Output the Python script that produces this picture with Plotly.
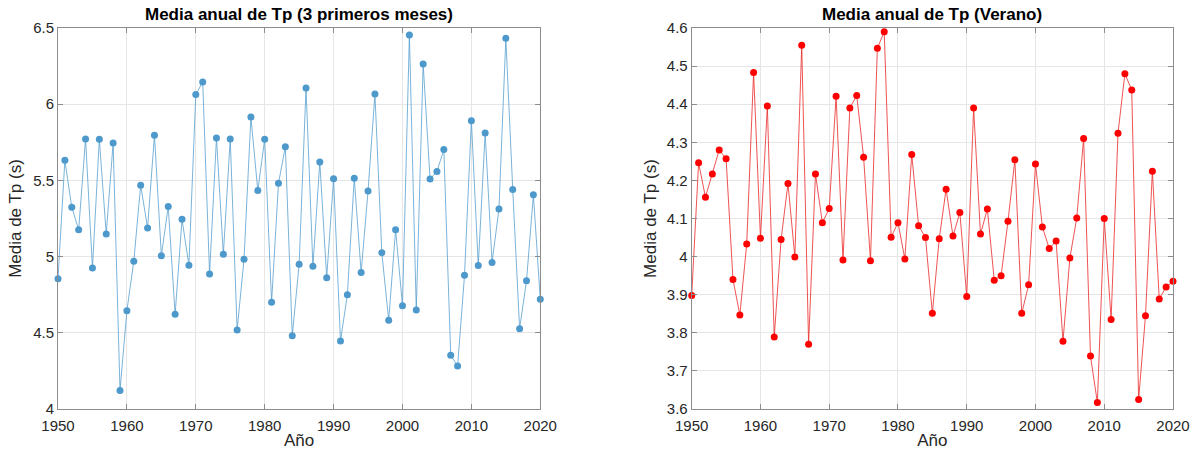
import plotly.graph_objects as go

years = list(range(1950, 2021))

tp_3meses = [4.855, 5.632, 5.323, 5.177, 5.772, 4.925, 5.770, 5.148, 5.745, 4.122,
             4.645, 4.969, 5.468, 5.188, 5.796, 5.006, 5.328, 4.621, 5.245, 4.943,
             6.063, 6.146, 4.886, 5.778, 5.015, 5.772, 4.518, 4.982, 5.916, 5.433,
             5.770, 4.700, 5.481, 5.721, 4.481, 4.949, 6.106, 4.936, 5.621, 4.862,
             5.511, 4.446, 4.750, 5.514, 4.895, 5.430, 6.067, 5.026, 4.582, 5.177,
             4.678, 6.454, 4.650, 6.264, 5.509, 5.559, 5.702, 4.352, 4.282, 4.877,
             5.892, 4.941, 5.811, 4.962, 5.312, 6.432, 5.441, 4.527, 4.842, 5.406,
             4.720]

tp_verano = [3.898, 4.246, 4.156, 4.217, 4.280, 4.257, 3.940, 3.847, 4.033, 4.483,
             4.048, 4.395, 3.789, 4.045, 4.192, 3.999, 4.555, 3.770, 4.217, 4.089,
             4.126, 4.421, 3.991, 4.390, 4.423, 4.261, 3.989, 4.547, 4.590, 4.051,
             4.089, 3.994, 4.268, 4.081, 4.050, 3.851, 4.047, 4.177, 4.054, 4.116,
             3.895, 4.390, 4.059, 4.125, 3.938, 3.950, 4.093, 4.254, 3.851, 3.926,
             4.243, 4.078, 4.021, 4.041, 3.778, 3.996, 4.101, 4.310, 3.739, 3.617,
             4.100, 3.835, 4.324, 4.480, 4.437, 3.625, 3.845, 4.224, 3.889, 3.920,
             3.935]

left_ticks = [4, 4.5, 5, 5.5, 6, 6.5]
left_ticktext = ["4", "4.5", "5", "5.5", "6", "6.5"]
right_ticks = [3.6, 3.7, 3.8, 3.9, 4.0, 4.1, 4.2, 4.3, 4.4, 4.5, 4.6]
right_ticktext = ["3.6", "3.7", "3.8", "3.9", "4", "4.1", "4.2", "4.3", "4.4", "4.5", "4.6"]
x_ticks = [1950, 1960, 1970, 1980, 1990, 2000, 2010, 2020]

W, H = 1194, 452
FONT = "Liberation Sans, Arial, Helvetica, sans-serif"

# plot area in pixels
ML, MR, MT, MB = 57.5, W - 1173.0, 28.3, H - 409.3
PW = W - ML - MR
PH = H - MT - MB

fig = go.Figure()
fig.add_trace(go.Scatter(
    x=years, y=tp_3meses, mode="lines+markers",
    line=dict(color="rgba(77,153,204,0.75)", width=1),
    marker=dict(color="rgb(77,153,204)", size=7),
    xaxis="x", yaxis="y", showlegend=False, cliponaxis=False))
fig.add_trace(go.Scatter(
    x=years, y=tp_verano, mode="lines+markers",
    line=dict(color="rgba(235,40,40,0.8)", width=1),
    marker=dict(color="rgb(255,0,0)", size=7),
    xaxis="x2", yaxis="y2", showlegend=False, cliponaxis=False))

lx0, lx1 = 0.0, (540.0 - ML) / PW
rx0, rx1 = (691.5 - ML) / PW, 1.0

common_axis = dict(
    showline=True, linecolor="#8c8c8c", linewidth=1, mirror="ticks",
    ticks="inside", ticklen=5, tickcolor="#8c8c8c", tickwidth=1,
    showgrid=True, gridcolor="#e6e6e6", gridwidth=1, zeroline=False,
    automargin=False,
    tickfont=dict(family=FONT, size=15, color="#262626"),
)

title_y = 1 + (MT - 15) / PH

fig.update_layout(
    width=W, height=H,
    margin=dict(l=ML, r=MR, t=MT, b=MB, pad=0),
    paper_bgcolor="white", plot_bgcolor="white",
    font=dict(family=FONT, color="#262626"),
    xaxis=dict(domain=[lx0, lx1], range=[1950, 2020], tickvals=x_ticks,
               anchor="y", ticklabelstandoff=3,
               title=dict(text="Año", font=dict(size=17), standoff=1),
               **common_axis),
    yaxis=dict(domain=[0, 1], range=[4, 6.5], tickvals=left_ticks,
               ticktext=left_ticktext, anchor="x",
               title=dict(text="Media de Tp (s)", font=dict(size=17), standoff=7),
               **common_axis),
    xaxis2=dict(domain=[rx0, rx1], range=[1950, 2020], tickvals=x_ticks,
                anchor="y2", ticklabelstandoff=3,
                title=dict(text="Año", font=dict(size=17), standoff=1),
                **common_axis),
    yaxis2=dict(domain=[0, 1], range=[3.6, 4.6], tickvals=right_ticks,
                ticktext=right_ticktext, anchor="x2",
                title=dict(text="Media de Tp (s)", font=dict(size=17), standoff=5),
                **common_axis),
    annotations=[
        dict(text="<b>Media anual de Tp (3 primeros meses)</b>", x=(lx0 + lx1) / 2,
             y=title_y, xref="paper", yref="paper", showarrow=False,
             xanchor="center", yanchor="middle",
             font=dict(family=FONT, size=17, color="black")),
        dict(text="<b>Media anual de Tp (Verano)</b>", x=(rx0 + rx1) / 2,
             y=title_y, xref="paper", yref="paper", showarrow=False,
             xanchor="center", yanchor="middle",
             font=dict(family=FONT, size=17, color="black")),
    ],
)

fig.write_html("out.html")
